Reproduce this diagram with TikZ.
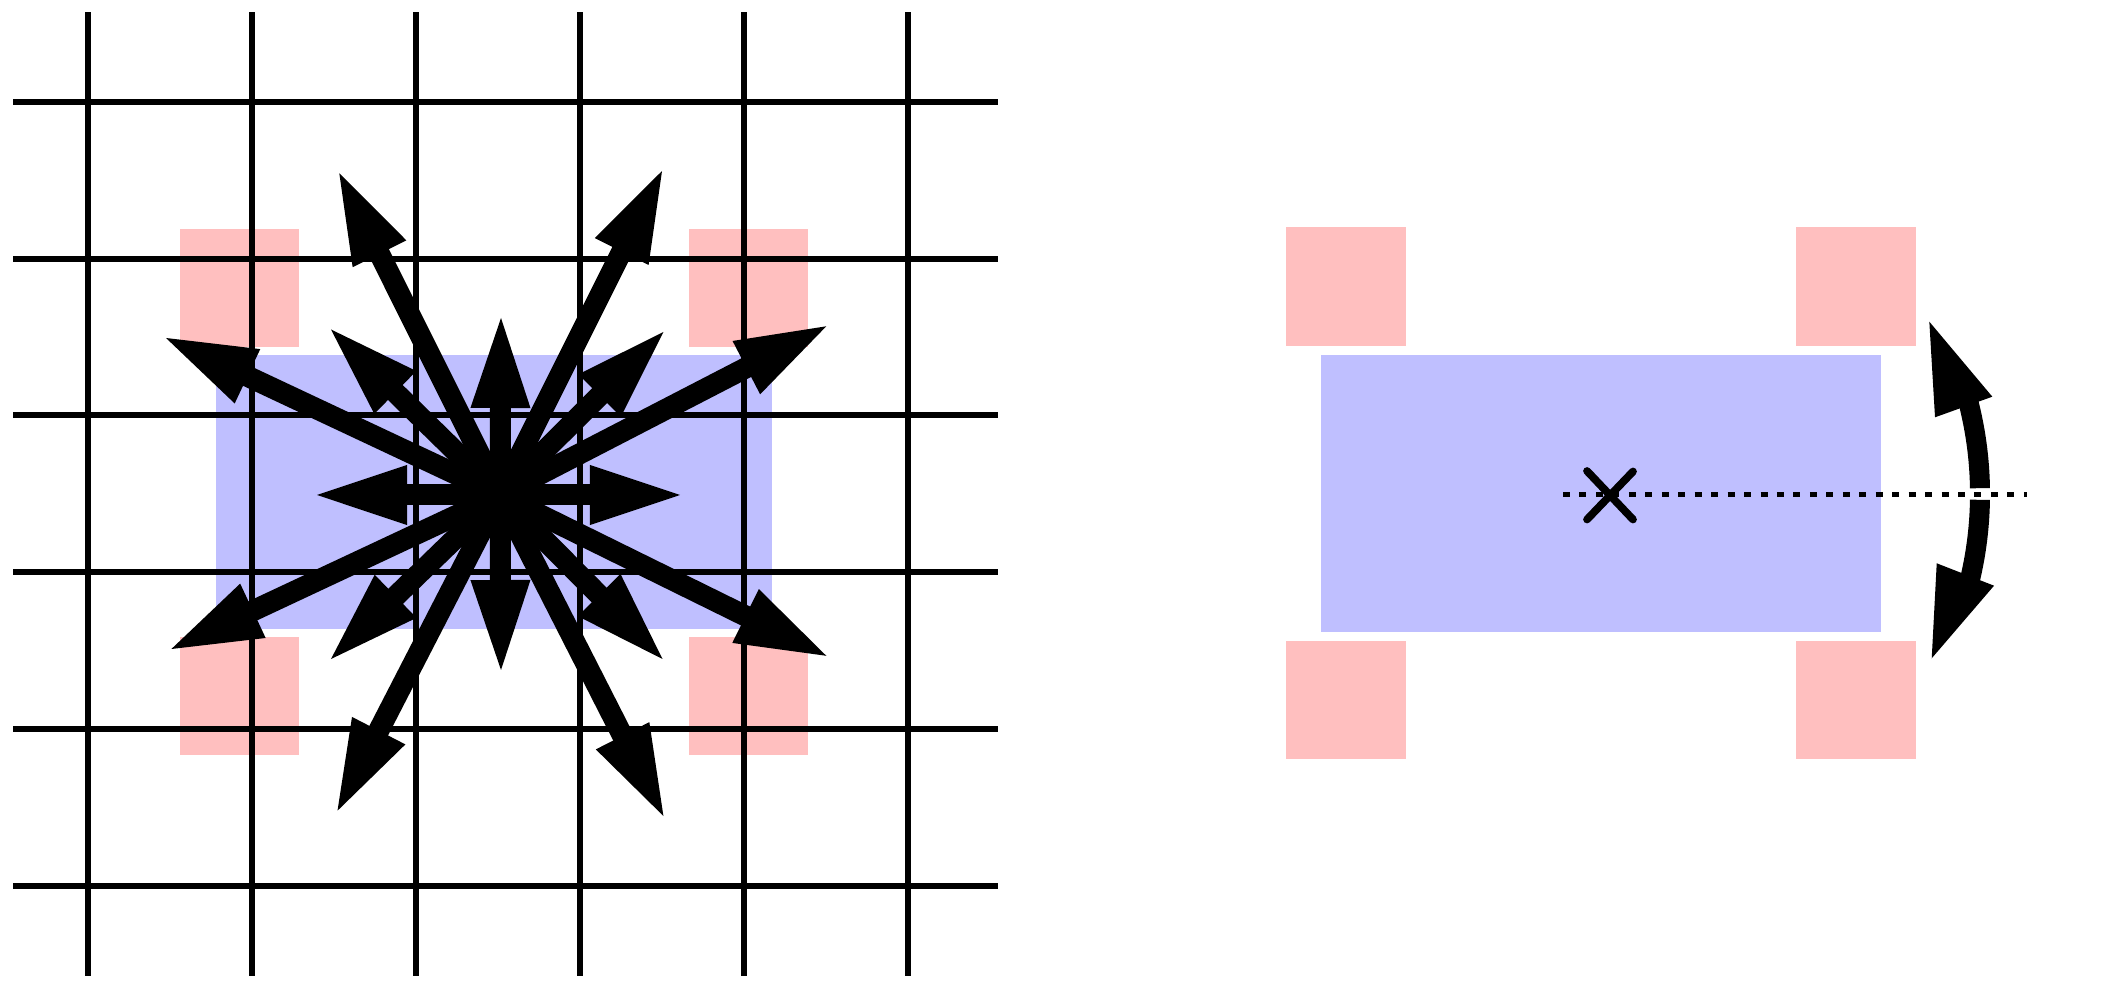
\documentclass[tikz,border=0pt]{standalone}
\usetikzlibrary{calc}
\definecolor{pinkfill}{RGB}{255,191,191}
\definecolor{bluefill}{RGB}{191,191,255}
\tikzset{
  gridline/.style={line width=1.707pt, black},
  pinkbox/.style={fill=pinkfill},
  bluebox/.style={fill=bluefill},
  shaft/.style={line width=5.97pt, black},
  crossmark/.style={line width=2.2pt, line cap=round, black},
  axisline/.style={line width=1.28pt, black, dash pattern=on 1.99pt off 2.69pt},
}
% thick arrow from #1 to #2: shaft 21px wide, triangular head 90px long, 60px wide
\newcommand\bigarr[2]{%
  \coordinate (hb) at ($(#2)!25.6pt!(#1)$);
  \draw[shaft] (#1) -- ($(#2)!22pt!(#1)$);
  \fill[black] ($(hb)!8.54pt!90:(#2)$) -- (#2) -- ($(hb)!8.54pt!-90:(#2)$) -- cycle;
}
\begin{document}
\begin{tikzpicture}[x=0.01cm,y=-0.01cm]
\useasboundingbox (0,0) rectangle (2119,989);
\fill[white] (0,0) rectangle (2119,989);

% ---------- left panel ----------
\fill[pinkbox] (179.5,229) rectangle (298.7,347.3);
\fill[pinkbox] (688.8,229) rectangle (808,347.3);
\fill[pinkbox] (179.5,637.5) rectangle (298.7,755.4);
\fill[pinkbox] (688.8,637.5) rectangle (808,755.4);
\fill[bluebox] (215.6,355) rectangle (772,629.5);

\foreach \x in {88,252,416,580,744,908}
  \draw[gridline] (\x,12.3) -- (\x,975.7);
\foreach \y in {102,258.7,415.4,572.1,728.8,885.5}
  \draw[gridline] (13,\y) -- (997.7,\y);

\coordinate (c) at (500,495);
\coordinate (tu) at (501,318);
\coordinate (td) at (501,670);
\coordinate (tl) at (317,495);
\coordinate (tr) at (680,495);
\coordinate (tul) at (331,329.5);
\coordinate (tur) at (663.4,332);
\coordinate (tdl) at (331,659);
\coordinate (tdr) at (662.5,659);
\coordinate (sul) at (339.3,173.3);
\coordinate (sur) at (662,171);
\coordinate (sdl) at (337.5,810.7);
\coordinate (sdr) at (663.4,816);
\coordinate (hul) at (166,338);
\coordinate (hur) at (826.3,326.3);
\coordinate (hdl) at (171.4,649);
\coordinate (hdr) at (826.3,655.8);

\bigarr{c}{tu}
\bigarr{c}{td}
\bigarr{c}{tl}
\bigarr{c}{tr}
\bigarr{c}{tul}
\bigarr{c}{tur}
\bigarr{c}{tdl}
\bigarr{c}{tdr}
\bigarr{c}{sul}
\bigarr{c}{sur}
\bigarr{c}{sdl}
\bigarr{c}{sdr}
\bigarr{c}{hul}
\bigarr{c}{hur}
\bigarr{c}{hdl}
\bigarr{c}{hdr}

% ---------- right panel ----------
\fill[pinkbox] (1285.7,227.1) rectangle (1405.6,346.2);
\fill[pinkbox] (1796,227.1) rectangle (1915.8,346.2);
\fill[pinkbox] (1285.7,641) rectangle (1405.6,759.2);
\fill[pinkbox] (1796,641) rectangle (1915.8,759.2);
\fill[bluebox] (1321.4,354.6) rectangle (1880.6,632);

\coordinate (xc) at (1610,495);
\draw[crossmark] (1587,471) -- (1633,519.5);
\draw[crossmark] (1633,471.5) -- (1587,519.5);

\coordinate (ls) at (1563,494.5);
\coordinate (le) at (2027,494.5);
\draw[axisline] (ls) -- (le);

% curved double arrow (two arc bands around the centre mark)
\fill[black] plot[domain=-0.9:-15.5, samples=40] ({1610+380*cos(\x)},{494+380*sin(\x)})
  -- plot[domain=-15.5:-0.9, samples=40] ({1610+360*cos(\x)},{494+360*sin(\x)}) -- cycle;
\fill[black] plot[domain=0.9:15, samples=40] ({1610+380*cos(\x)},{494+380*sin(\x)})
  -- plot[domain=15:0.9, samples=40] ({1610+360*cos(\x)},{494+360*sin(\x)}) -- cycle;
\coordinate (at) at (1929.3,321.7);
\coordinate (ab) at (1931.7,658.3);
\fill[black] (1935,417.3) -- (at) -- (1992.3,396.7) -- cycle;
\fill[black] (1936.7,563.3) -- (ab) -- (1994,585.7) -- cycle;
\end{tikzpicture}
\end{document}
